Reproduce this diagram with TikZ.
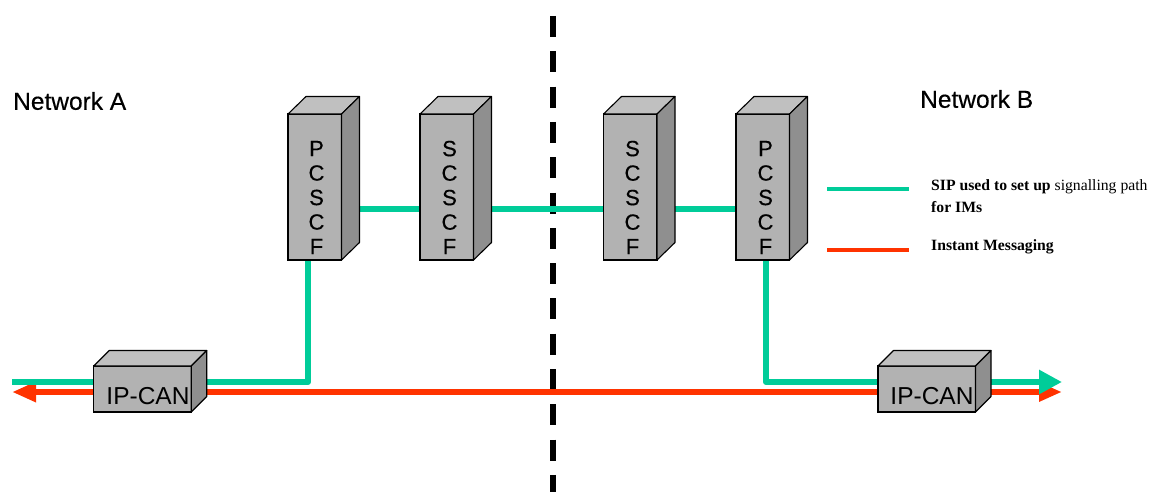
\documentclass[tikz,border=0pt]{standalone}
\usepackage{fontspec}
\setmainfont{Liberation Sans}
\newfontfamily\netfont[FakeBold=0.4]{Liberation Sans}
\newfontfamily\legendfont{Liberation Serif}
\usetikzlibrary{arrows.meta,backgrounds}
\definecolor{faceFront}{HTML}{B2B2B2}
\definecolor{faceTop}{HTML}{C0C0C0}
\definecolor{faceSide}{HTML}{8F8F8F}
\definecolor{sipGreen}{HTML}{00CC99}
\definecolor{imRed}{HTML}{FF3300}
\begin{document}
\begin{tikzpicture}[
        x=1pt, y=-1pt,
        frontface/.style={draw=black, line width=1.1pt, fill=faceFront, inner sep=0pt, outer sep=0pt},
        cscfbox/.style={frontface, minimum width=53.5pt, minimum height=146pt},
        canbox/.style={frontface, minimum width=97.5pt, minimum height=46pt},
        topface/.style={draw=black, line width=1.1pt, line join=round, fill=faceTop},
        sideface/.style={draw=black, line width=1.1pt, line join=round, fill=faceSide},
        stacklabel/.style={align=center, font=\netfont\fontsize{22}{24.5}\selectfont, inner sep=0pt},
        canlabel/.style={font=\fontsize{24.5}{28}\selectfont, inner sep=0pt},
        netlabel/.style={anchor=west, font=\netfont\fontsize{24.5}{28}\selectfont, inner sep=0pt},
        legendlabel/.style={anchor=west, align=left, font=\legendfont\fontsize{15.7}{22}\selectfont, inner sep=0pt},
        sipLine/.style={line width=6pt, sipGreen, line join=round},
        imLine/.style={line width=6pt, imRed},
        sipLegend/.style={line width=4pt, sipGreen},
        imLegend/.style={line width=4pt, imRed},
        border/.style={line width=6pt, black, dash pattern=on 21pt off 14.3pt}
    ]
    \useasboundingbox (0,0) rectangle (1150,492);

    % --- 1. front faces ---
    \node[cscfbox] (pcscfA) at (314.75,187) {};
    \node[cscfbox] (scscfA) at (446.75,187) {};
    \node[cscfbox] (scscfB) at (630.25,187) {};
    \node[cscfbox] (pcscfB) at (762.75,187) {};
    \node[canbox] (ipcanA) at (142.5,389) {};
    \node[canbox] (ipcanB) at (926.75,389) {};

    % --- 2. top and side faces ---
    \foreach \boxname/\dx/\dy in {pcscfA/18/17.5, scscfA/18/17.5, scscfB/18/17.5, pcscfB/18/17.5, ipcanA/15.5/15.5, ipcanB/15.5/15.5} {
        \filldraw[topface] (\boxname.north west) -- ++(\dx,-\dy) -- ([shift={(\dx,-\dy)}]\boxname.north east) -- (\boxname.north east) -- cycle;
        \filldraw[sideface] (\boxname.north east) -- ++(\dx,-\dy) -- ([shift={(\dx,-\dy)}]\boxname.south east) -- (\boxname.south east) -- cycle;
    }

    % --- 3. box labels ---
    \node[stacklabel] (pcscfAtext) at (316.5,197.5) {P\\C\\S\\C\\F};
    \node[stacklabel] (scscfAtext) at (449.5,197.5) {S\\C\\S\\C\\F};
    \node[stacklabel] (scscfBtext) at (632.5,197.5) {S\\C\\S\\C\\F};
    \node[stacklabel] (pcscfBtext) at (765.5,197.5) {P\\C\\S\\C\\F};
    \node[canlabel] (ipcanAtext) at (148,396) {IP-CAN};
    \node[canlabel] (ipcanBtext) at (932,396) {IP-CAN};

    % --- 4. free ends ---
    \coordinate (dashTop) at (553,16);
    \coordinate (dashBottom) at (553,492);
    \coordinate (sipLeft) at (12,382);
    \coordinate (sipRight) at (1062,382);
    \coordinate (imLeft) at (12,392);
    \coordinate (imRight) at (1062,392);

    % --- 5. lines, behind the boxes ---
    \begin{scope}[on background layer]
        \draw[border] (dashTop) -- (dashBottom);
        \draw[imLine, {Triangle[length=24pt, width=19pt]}-{Triangle[length=23pt, width=18pt]}] (imLeft) -- (imRight);
        \draw[sipLine] (sipLeft) -- (308,382) -- ([xshift=-6.75pt]pcscfA.south);
        \draw[sipLine, -{Triangle[length=23pt, width=23pt]}] ([xshift=3.25pt]pcscfB.south) -- (766,382) -- (sipRight);
        \draw[sipLine] ([yshift=-22pt]pcscfA.east) -- ([yshift=-22pt]scscfA.west);
        \draw[sipLine] ([yshift=-22pt]scscfA.east) -- ([yshift=-22pt]scscfB.west);
        \draw[sipLine] ([yshift=-22pt]scscfB.east) -- ([yshift=-22pt]pcscfB.west);
    \end{scope}

    % --- 6. network names and legend ---
    \node[netlabel] (netA) at (13,101) {Network A};
    \node[netlabel] (netB) at (920,99) {Network B};
    \coordinate (sipKeyA) at (827,189);
    \coordinate (sipKeyB) at (909,189);
    \coordinate (imKeyA) at (827,249.5);
    \coordinate (imKeyB) at (909,249.5);
    \draw[sipLegend] (sipKeyA) -- (sipKeyB);
    \draw[imLegend] (imKeyA) -- (imKeyB);
    \node[legendlabel] (sipKey) at (931,196) {\textbf{SIP used to set up} signalling path\\\textbf{for IMs}};
    \node[legendlabel] (imKey) at (931,247) {\textbf{Instant Messaging}};
\end{tikzpicture}
\end{document}
